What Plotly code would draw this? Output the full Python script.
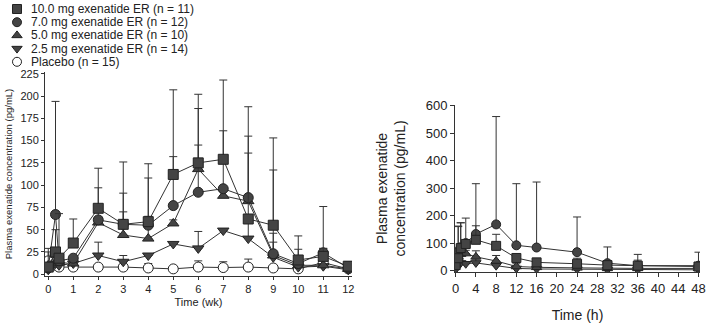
import plotly.graph_objects as go

# ---------------- Left panel data (weeks) ----------------
wk = [0, 0.29, 0.43, 1, 2, 3, 4, 5, 6, 7, 8, 9, 10, 11, 12]
wk_ticks = list(range(0, 13))

sq_wk = [8, 25, 18, 35, 74, 56, 59, 112, 125, 129, 62, 55, 16, 20, 9]
sq_wk_err = [21, 25, 50, 27, 45, 70, 65, 95, 77, 89, 126, 98, 27, 9, 5]

ci_wk = [7, 67, 15, 18, 61, 56, 55, 77, 92, 96, 86, 23, 12, 24, 7]
ci_wk_err = [0, 127, 0, 0, 36, 35, 53, 55, 53, 65, 69, 94, 16, 52, 0]

tu_wk = [10, 22, 13, 12, 58, 44, 40, 57, 118, 88, 82, 21, 10, 10, 6]
tu_wk_err = [0, 0, 0, 0, 0, 26, 25, 4, 68, 0, 54, 25, 0, 0, 0]

td_wk = [5, 12, 10, 12, 21, 14, 21, 34, 29, 49, 40, 19, 8, 9, 5]
td_wk_err = [0, 0, 0, 0, 15, 7, 0, 0, 19, 0, 17, 17, 0, 0, 0]

pl_wk = [15, 10, 8, 8, 8, 8, 7, 6, 8, 7.5, 8, 7, 6, 13, 6]
pl_wk_err = [10, 0, 0, 0, 0, 0, 5, 0, 7, 6.5, 9, 0, 0, 16, 8]

# ---------------- Right panel data (hours) ----------------
hr = [0, 0.5, 1, 2, 4, 8, 12, 16, 24, 30, 36, 48]
hr_ticks = list(range(0, 49, 4))

sq_hr = [20, 45, 82, 97, 112, 90, 46, 30, 25, 20, 18, 15]
sq_hr_err = [0, 115, 92, 94, 51, 42, 10, 10, 20, 12, 20, 10]

ci_hr = [60, 70, 85, 100, 133, 168, 92, 84, 67, 27, 18, 18]
ci_hr_err = [0, 92, 89, 0, 183, 392, 224, 238, 128, 59, 41, 49]

tu_hr = [25, 50, 60, 62, 50, 35, 15, 12, 10, 8, 8, 8]
tu_hr_err = [0, 0, 0, 12, 22, 20, 10, 0, 0, 0, 0, 0]

td_hr = [5, 20, 28, 25, 28, 18, 8, 6, 5, 3, 3, 3]
td_hr_err = [0, 0, 0, 8, 14, 10, 0, 0, 0, 0, 0, 0]

legend_names = [
    "10.0 mg exenatide ER (n = 11)",
    "7.0 mg exenatide ER (n = 12)",
    "5.0 mg exenatide ER (n = 10)",
    "2.5 mg exenatide ER (n = 14)",
    "Placebo (n = 15)",
]
symbols = ["square", "circle", "triangle-up", "triangle-down", "circle"]
fills = ["#444444", "#444444", "#444444", "#444444", "#ffffff"]

DARK = "#333333"
FONT = "Liberation Sans, Arial, sans-serif"
W, H = 712, 324

fig = go.Figure()


def add_series(x, y, err, sym, fill, xa, ya, size=10):
    fig.add_trace(go.Scatter(
        x=x, y=y, mode="lines+markers", xaxis=xa, yaxis=ya,
        line=dict(color=DARK, width=1),
        marker=dict(symbol=sym, size=size, color=fill,
                    line=dict(color="#222222", width=1)),
        error_y=dict(type="data", symmetric=False, array=err,
                     arrayminus=[0] * len(err), color=DARK,
                     thickness=1, width=4),
        showlegend=False, hoverinfo="x+y",
    ))


left = [(pl_wk, pl_wk_err, 4), (td_wk, td_wk_err, 3), (tu_wk, tu_wk_err, 2),
        (ci_wk, ci_wk_err, 1), (sq_wk, sq_wk_err, 0)]
for y, e, i in left:
    add_series(wk, y, e, symbols[i], fills[i], "x", "y")

right = [(td_hr, td_hr_err, 3), (tu_hr, tu_hr_err, 2),
         (ci_hr, ci_hr_err, 1), (sq_hr, sq_hr_err, 0)]
for y, e, i in right:
    add_series(hr, y, e, symbols[i], fills[i], "x2", "y2", size=9)

# ---------------- manual legend on a hidden overlay axis (pixel units) ----
LEG_X = 17
LEG_ROW0, LEG_DY = 9, 13.2
for i, name in enumerate(legend_names):
    ly = LEG_ROW0 + i * LEG_DY
    fig.add_trace(go.Scatter(
        x=[LEG_X], y=[ly], mode="markers", xaxis="x3", yaxis="y3",
        marker=dict(symbol=symbols[i], size=9, color=fills[i],
                    line=dict(color="#222222", width=1)),
        showlegend=False, hoverinfo="skip", cliponaxis=False,
    ))
    fig.add_annotation(
        x=LEG_X + 12, y=ly, xref="x3", yref="y3", text=name,
        showarrow=False, xanchor="left", yanchor="middle",
        font=dict(family=FONT, size=12, color="#222222"),
    )


def px_x(a, b):
    return [a / W, b / W]


def px_y(top, bottom):
    return [1 - bottom / H, 1 - top / H]


axis_common = dict(
    showgrid=False, zeroline=False, showline=True, linecolor=DARK,
    linewidth=1, ticks="outside", ticklen=3, tickcolor=DARK,
    tickfont=dict(family=FONT, size=11, color="#222222"),
    automargin=False,
)
right_font = dict(family=FONT, size=13, color="#222222")

fig.update_layout(
    width=W, height=H,
    margin=dict(l=0, r=0, t=0, b=0, autoexpand=False),
    paper_bgcolor="white", plot_bgcolor="rgba(0,0,0,0)",
    font=dict(family=FONT, color="#222222"),
    showlegend=False,
    xaxis=dict(domain=px_x(45, 352), range=[-0.13, 12.15],
               tickvals=wk_ticks, anchor="y",
               title=dict(text="Time (wk)", font=dict(size=11), standoff=4),
               **axis_common),
    yaxis=dict(domain=px_y(72, 276), range=[-2, 227],
               tickvals=list(range(0, 226, 25)), anchor="x",
               title=dict(text="Plasma exenatide concentration (pg/mL)",
                          font=dict(size=9.5), standoff=6),
               **axis_common),
    xaxis2=dict(domain=px_x(455, 700), range=[-0.13, 48.3],
                tickvals=hr_ticks, anchor="y2",
                title=dict(text="Time (h)", font=dict(size=14), standoff=15),
                **{**axis_common, "tickfont": right_font, "ticklen": 4}),
    yaxis2=dict(domain=px_y(105, 272), range=[-5, 602],
                tickvals=list(range(0, 601, 100)), anchor="x2",
                title=dict(text="Plasma exenatide<br>concentration (pg/mL)",
                           font=dict(size=14), standoff=16),
                **{**axis_common, "tickfont": right_font, "ticklen": 4}),
    xaxis3=dict(domain=[0, 1], range=[0, W], visible=False, anchor="y3",
                fixedrange=True),
    yaxis3=dict(domain=[0, 1], range=[H, 0], visible=False, anchor="x3",
                fixedrange=True),
)

fig.write_html(
    "out.html",
    config={"displayModeBar": False},
    post_script="document.body.style.margin='0';"
                "document.body.style.overflow='hidden';",
)
